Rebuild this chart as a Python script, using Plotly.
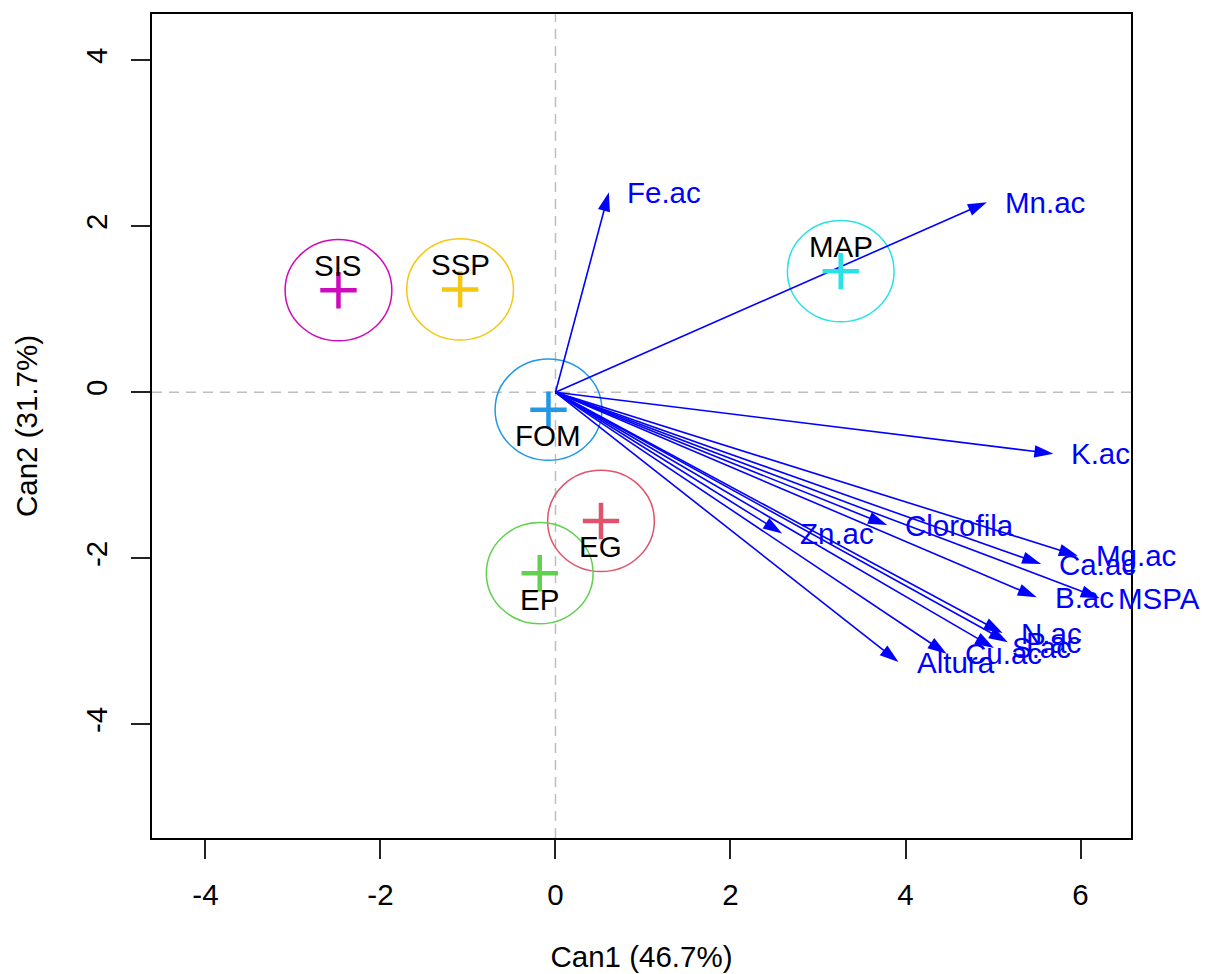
import plotly.graph_objects as go

# ---- data ----
groups = ["SIS", "SSP", "MAP", "FOM", "EG", "EP"]
group_can1 = [-2.48, -1.09, 3.26, -0.08, 0.52, -0.18]
group_can2 = [1.23, 1.24, 1.46, -0.21, -1.55, -2.18]
group_colors = ["#CD0BBC", "#F5C710", "#28E2E5", "#2297E6", "#DF536B", "#61D04F"]
label_above = [True, True, True, False, False, False]
circle_radius = 0.61

variables = ["Fe.ac", "Mn.ac", "K.ac", "Zn.ac", "Clorofila", "Mg.ac", "Ca.ac",
             "B.ac", "MSPA", "N.ac", "P.ac", "S.ac", "Cu.ac", "Altura"]
vec_can1 = [0.61, 4.93, 5.69, 2.59, 3.79, 5.97, 5.55, 5.50, 6.22, 5.11, 5.17, 5.01, 4.47, 3.92]
vec_can2 = [2.41, 2.29, -0.74, -1.70, -1.60, -1.97, -2.07, -2.47, -2.48, -2.90, -3.01, -3.08, -3.15, -3.25]

x_ticks = [-4, -2, 0, 2, 4, 6]
y_ticks = [-4, -2, 0, 2, 4]
x_title = "Can1 (46.7%)"
y_title = "Can2 (31.7%)"

FONT = "Liberation Sans, Arial, sans-serif"
FS = 29.5
XR = [-4.611, 6.577]
YR = [-5.370, 4.558]

fig = go.Figure()

# reference lines at 0
shapes = [
    dict(type="line", xref="x", yref="paper", x0=0, x1=0, y0=0, y1=1,
         line=dict(color="#BEBEBE", width=1.5, dash="10px,7px"), layer="below"),
    dict(type="line", xref="paper", yref="y", x0=0, x1=1, y0=0, y1=0,
         line=dict(color="#BEBEBE", width=1.5, dash="10px,7px"), layer="below"),
]
# group circles
for cx, cy, col in zip(group_can1, group_can2, group_colors):
    shapes.append(dict(type="circle", xref="x", yref="y",
                       x0=cx - circle_radius, x1=cx + circle_radius,
                       y0=cy - circle_radius, y1=cy + circle_radius,
                       line=dict(color=col, width=1.5), layer="below"))

# vectors (arrows)
ax_x, ax_y, sizes = [], [], []
for vx, vy in zip(vec_can1, vec_can2):
    ax_x += [0, vx, None]
    ax_y += [0, vy, None]
    sizes += [0, 20, 0]
fig.add_trace(go.Scatter(
    x=ax_x, y=ax_y, mode="lines+markers",
    line=dict(color="#0000FF", width=1.6),
    marker=dict(symbol="arrow", size=sizes, angleref="previous", color="#0000FF",
                opacity=1, line=dict(width=0)),
    hoverinfo="skip", showlegend=False))

# group means
fig.add_trace(go.Scatter(
    x=group_can1, y=group_can2, mode="markers",
    marker=dict(symbol="cross-thin", size=26,
                line=dict(color=group_colors, width=4.5)),
    hoverinfo="skip", showlegend=False))

annotations = []
for g, cx, cy, up in zip(groups, group_can1, group_can2, label_above):
    annotations.append(dict(x=cx, y=cy, xref="x", yref="y", text=g, showarrow=False,
                            yshift=25 if up else -26,
                            font=dict(family=FONT, size=FS, color="black")))
for v, vx, vy in zip(variables, vec_can1, vec_can2):
    annotations.append(dict(x=vx, y=vy, xref="x", yref="y", text=v, showarrow=False,
                            xanchor="left", yanchor="middle", xshift=16,
                            font=dict(family=FONT, size=FS, color="#0000FF")))

fig.update_layout(
    width=1207, height=974,
    margin=dict(l=152, r=76, t=14, b=136, autoexpand=False),
    paper_bgcolor="white", plot_bgcolor="white",
    font=dict(family=FONT, size=FS, color="black"),
    shapes=shapes, annotations=annotations,
    xaxis=dict(range=XR, tickvals=x_ticks, ticktext=[str(t) for t in x_ticks],
               automargin=False,
               showgrid=False, zeroline=False, showline=True, mirror=True,
               linecolor="black", linewidth=1.5, ticks="outside", ticklen=19,
               tickwidth=1.5, tickcolor="#222", ticklabelstandoff=11,
               title=dict(text=x_title, standoff=36, font=dict(size=FS))),
    yaxis=dict(range=YR, tickvals=y_ticks, ticktext=[str(t) for t in y_ticks],
               automargin=False,
               showgrid=False, zeroline=False, showline=True, mirror=True,
               linecolor="black", linewidth=1.5, ticks="outside", ticklen=19,
               tickwidth=1.5, tickcolor="#222", tickangle=-90, ticklabelstandoff=12,
               title=dict(text=y_title, standoff=34, font=dict(size=FS))),
)

fig.write_html("out.html")
